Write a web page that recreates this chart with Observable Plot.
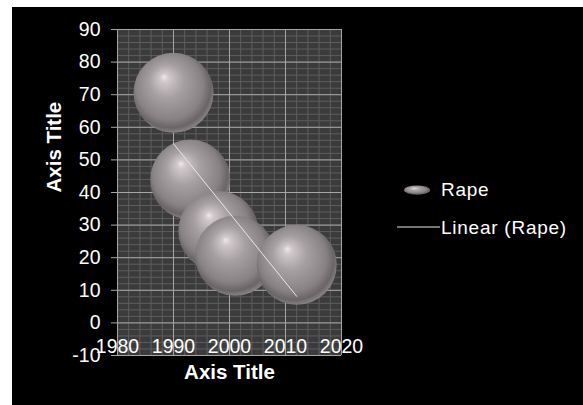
<!DOCTYPE html>
<html>
<head>
<meta charset="utf-8">
<script src="https://cdn.jsdelivr.net/npm/d3@7"></script>
<script src="https://cdn.jsdelivr.net/npm/@observablehq/plot@0.6"></script>
<style>
  html, body { margin: 0; padding: 0; background: #ffffff; }
  #chart { padding: 7px 0 0 12px; }
  #chart svg { display: block; background: #000000; }
</style>
</head>
<body>
<div id="chart"></div>
<script>
// Bubble series: year and value of each observation
const years = [1990, 1993, 1998, 2001, 2012];
const values = [70.6, 44, 28.2, 20.6, 17.8];
const seriesName = "Rape";
const trendName = "Linear (Rape)";

// Axis ticks
const xTicks = [1980, 1990, 2000, 2010, 2020];
const yTicks = [-10, 0, 10, 20, 30, 40, 50, 60, 70, 80, 90];
const xMinor = d3.range(1980, 2021, 2);
const yMinor = d3.range(-10, 91, 2);
const xTitle = "Axis Title";
const yTitle = "Axis Title";

const data = years.map((year, i) => ({year, value: values[i]}));

const font = "'Liberation Sans', Arial, sans-serif";
const plain = d => String(d);

const chart = Plot.plot({
  width: 571,
  height: 398,
  marginLeft: 105,
  marginRight: 242,
  marginTop: 22,
  marginBottom: 50,
  style: {background: "#000", color: "#fff", fontFamily: font, fontSize: "19px"},
  x: {domain: [1980, 2020]},
  y: {domain: [-10, 90]},
  marks: [
    Plot.frame({fill: "#3b3b3b", stroke: null}),
    Plot.gridX(xMinor, {stroke: "#5e5e5e", strokeOpacity: 1}),
    Plot.gridY(yMinor, {stroke: "#5e5e5e", strokeOpacity: 1}),
    Plot.gridX(xTicks, {stroke: "#a6a6a6", strokeOpacity: 1}),
    Plot.gridY(yTicks, {stroke: "#a6a6a6", strokeOpacity: 1}),
    Plot.axisY(yTicks, {tickSize: 6, tickPadding: 11, tickFormat: plain, stroke: "#a6a6a6", fill: "#fff", label: null, fontSize: 19.5}),
    Plot.axisX(xTicks, {tickSize: 0, tickPadding: -16, tickFormat: plain, fill: "#fff", label: null, fontSize: 19.5}),
    Plot.dot(data, {x: "year", y: "value", r: 40, fill: "url(#sphere)", stroke: null}),
    Plot.linearRegressionY(data, {x: "year", y: "value", stroke: "#e8e8e8", strokeWidth: 1, ci: 0}),
    Plot.text([xTitle], {frameAnchor: "bottom", dy: 23, lineAnchor: "bottom", fontWeight: "bold", fontSize: 20.5, fill: "#fff"}),
    Plot.text([yTitle], {frameAnchor: "left", dx: -57, rotate: -90, lineAnchor: "bottom", fontWeight: "bold", fontSize: 20.5, fill: "#fff"})
  ]
});

const svg = d3.select(chart);

// Shaded sphere fill for the bubbles
const defs = svg.insert("defs", ":first-child");
const grad = defs.append("radialGradient")
  .attr("id", "sphere")
  .attr("cx", 0.47).attr("cy", 0.45).attr("r", 0.56)
  .attr("fx", 0.38).attr("fy", 0.3);
[[0, "#efe7ea"], [0.1, "#cfc7ca"], [0.38, "#a7a0a3"], [0.75, "#898285"], [0.9, "#6a6467"], [1, "#8c8689"]]
  .forEach(([o, c]) => grad.append("stop").attr("offset", o).attr("stop-color", c));

// Legend
const legend = svg.append("g")
  .attr("font-family", font).attr("font-size", 19)
  .attr("letter-spacing", "0.75px")
  .attr("fill", "#fff").attr("text-anchor", "start");
legend.append("ellipse").attr("cx", 405).attr("cy", 183).attr("rx", 13).attr("ry", 4.5).attr("fill", "url(#sphere)");
legend.append("text").attr("x", 429).attr("y", 189).text(seriesName);
legend.append("line").attr("x1", 385).attr("x2", 428).attr("y1", 220).attr("y2", 220)
  .attr("stroke", "#e8e8e8").attr("stroke-width", 1);
legend.append("text").attr("x", 429).attr("y", 227).text(trendName);

document.getElementById("chart").appendChild(chart);
</script>
</body>
</html>
